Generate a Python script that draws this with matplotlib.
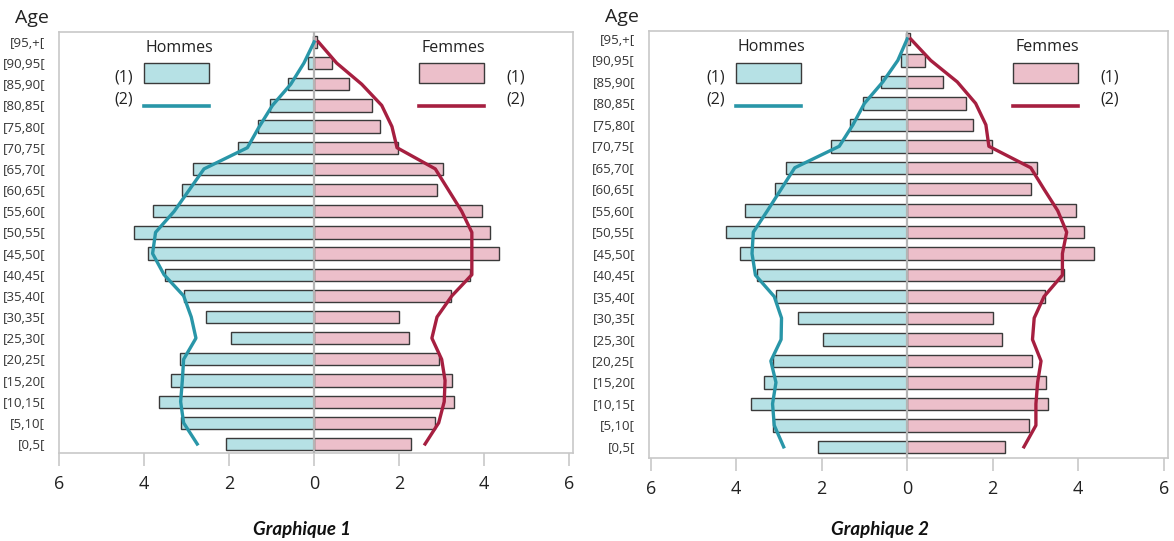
import numpy as np
import matplotlib
matplotlib.use('Agg')
import matplotlib.pyplot as plt
from matplotlib.patches import Rectangle

plt.rcParams['font.family'] = ['Open Sans', 'DejaVu Sans']

# age groups, bottom to top
ages = ["[0,5[", "[5,10[", "[10,15[", "[15,20[", "[20,25[", "[25,30[", "[30,35[",
        "[35,40[", "[40,45[", "[45,50[", "[50,55[", "[55,60[", "[60,65[",
        "[65,70[", "[70,75[", "[75,80[", "[80,85[", "[85,90[", "[90,95[", "[95,+["]

# (1) bars, same in both charts
hommes_1 = [2.08, 3.14, 3.66, 3.36, 3.15, 1.96, 2.55, 3.06, 3.51, 3.90,
            4.24, 3.80, 3.10, 2.84, 1.78, 1.33, 1.04, 0.61, 0.14, 0.03]
femmes_1 = [2.28, 2.85, 3.30, 3.25, 2.93, 2.22, 2.00, 3.22, 3.67, 4.36,
            4.14, 3.95, 2.89, 3.03, 1.98, 1.55, 1.37, 0.83, 0.42, 0.06]

# (2) lines, graphique 1
hommes_2a = [2.75, 3.07, 3.14, 3.10, 3.07, 2.78, 2.89, 3.07, 3.53, 3.80,
             3.73, 3.29, 2.94, 2.59, 1.57, 1.29, 0.98, 0.55, 0.24, 0.0]
femmes_2a = [2.61, 2.93, 3.06, 3.08, 3.00, 2.77, 2.89, 3.24, 3.71, 3.71,
             3.71, 3.47, 3.16, 2.85, 1.95, 1.83, 1.59, 1.12, 0.53, 0.10]

# (2) lines, graphique 2
hommes_2b = [2.89, 3.11, 3.15, 3.07, 3.19, 2.95, 2.94, 3.11, 3.55, 3.63,
             3.60, 3.27, 2.95, 2.63, 1.59, 1.27, 1.00, 0.57, 0.22, 0.0]
femmes_2b = [2.73, 3.01, 3.01, 3.05, 3.13, 2.93, 2.97, 3.20, 3.63, 3.63,
             3.73, 3.52, 3.20, 2.89, 1.91, 1.84, 1.60, 1.17, 0.55, 0.08]

C_H, C_F = '#b6e1e5', '#ecbfca'
L_H, L_F = '#2996a8', '#a61f40'
GRID = '#c8c8c8'
TXT = '#222222'

fig = plt.figure(figsize=(11.74, 5.41), dpi=100)
ax1 = fig.add_axes([0.0503, 0.1627, 0.4378, 0.7782])
ax2 = fig.add_axes([0.5528, 0.1534, 0.4421, 0.7893])


def draw(ax, hl, fl, xlim, ylim):
    y = np.arange(len(ages))
    ax.barh(y, -np.array(hommes_1), height=0.58, color=C_H, edgecolor='#3a3a3a', linewidth=1, zorder=2)
    ax.barh(y, femmes_1, height=0.58, color=C_F, edgecolor='#3a3a3a', linewidth=1, zorder=2)
    ax.axvline(0, color='#b4b4b4', lw=1.6, zorder=3)
    ax.plot(-np.array(hl), y, color=L_H, lw=2.4, zorder=4)
    ax.plot(fl, y, color=L_F, lw=2.4, zorder=4)

    ax.set_xlim(*xlim)
    ax.set_ylim(*ylim)
    ax.set_yticks(y)
    ax.set_yticklabels(ages, fontsize=9.5, color='#333333')
    ax.tick_params(axis='y', length=0, pad=10)
    ticks = [-6, -4, -2, 0, 2, 4, 6]
    ax.set_xticks(ticks)
    ax.set_xticklabels([str(abs(t)) for t in ticks], fontsize=13, color=TXT)
    ax.tick_params(axis='x', length=9, width=1.2, color=GRID, pad=7)
    for s in ax.spines.values():
        s.set_color(GRID)
        s.set_linewidth(1.2)

    # legend drawn by hand (axes fraction)
    tr = ax.transAxes
    def fx(v):
        return (v - xlim[0]) / (xlim[1] - xlim[0])
    ax.text(fx(-3.18), 0.963, "Hommes", transform=tr, ha='center', va='center', fontsize=11.5, color=TXT)
    ax.add_patch(Rectangle((fx(-4.0), 0.878), fx(-2.48) - fx(-4.0), 0.048, transform=tr,
                           facecolor=C_H, edgecolor='#3a3a3a', lw=1, zorder=5))
    ax.plot([fx(-4.0), fx(-2.48)], [0.824, 0.824], transform=tr, color=L_H, lw=2.6, zorder=5)
    ax.text(fx(-4.47), 0.892, "(1)", transform=tr, ha='center', va='center', fontsize=11.5, color=TXT)
    ax.text(fx(-4.47), 0.840, "(2)", transform=tr, ha='center', va='center', fontsize=11.5, color=TXT)

    ax.text(fx(3.27), 0.963, "Femmes", transform=tr, ha='center', va='center', fontsize=11.5, color=TXT)
    ax.add_patch(Rectangle((fx(2.47), 0.878), fx(3.99) - fx(2.47), 0.048, transform=tr,
                           facecolor=C_F, edgecolor='#3a3a3a', lw=1, zorder=5))
    ax.plot([fx(2.47), fx(3.99)], [0.824, 0.824], transform=tr, color=L_F, lw=2.6, zorder=5)
    ax.text(fx(4.73), 0.892, "(1)", transform=tr, ha='center', va='center', fontsize=11.5, color=TXT)
    ax.text(fx(4.73), 0.840, "(2)", transform=tr, ha='center', va='center', fontsize=11.5, color=TXT)

    ax.text(-0.0525, 1.033, "Age", transform=tr, ha='center', va='center', fontsize=14, color=TXT)


draw(ax1, hommes_2a, femmes_2a, (-6, 6.09), (-0.425, 19.47))
draw(ax2, hommes_2b, femmes_2b, (-6.04, 6.1), (-0.52, 19.37))

for xc, title in [(302 / 1174, "Graphique 1"), (880 / 1174, "Graphique 2")]:
    fig.text(xc, 0.022, title, ha='center', va='center', fontsize=13.5, fontweight='bold',
             fontstyle='italic', color='#111111', family=['Lato', 'DejaVu Sans'])

fig.savefig("out.png", dpi=100)
